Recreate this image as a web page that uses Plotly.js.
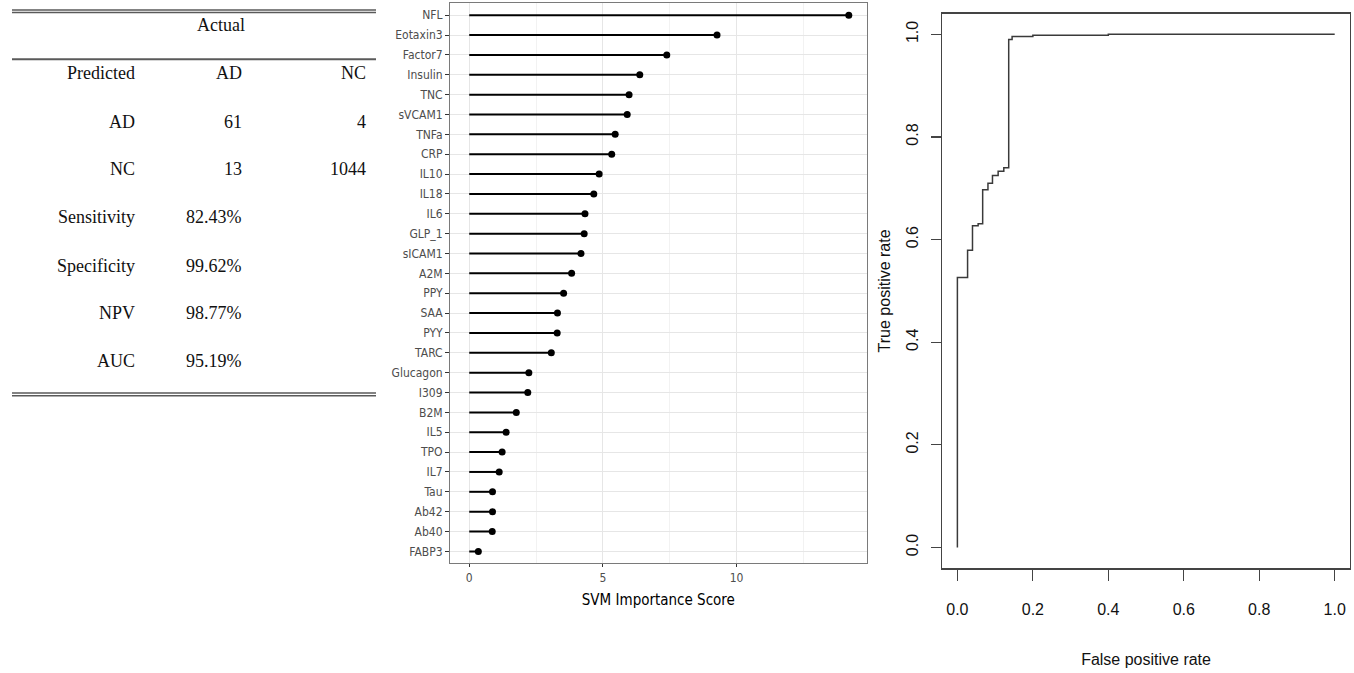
<!DOCTYPE html>
<html>
<head>
<meta charset="utf-8">
<script src="https://cdn.plot.ly/plotly-3.0.1.min.js"></script>
<style>html,body{margin:0;padding:0;background:#fff;}#chart{width:1354px;height:673px;}</style>
</head>
<body>
<div id="chart"></div>
<script>
// ---------- Table (confusion matrix) ----------
var tableRowLabels = ["Predicted", "AD", "NC", "Sensitivity", "Specificity", "NPV", "AUC"];
var tableColAD = ["AD", "61", "13", "82.43%", "99.62%", "98.77%", "95.19%"];
var tableColNC = ["NC", "4", "1044", "", "", "", ""];
var tableHeader = "Actual";

// ---------- Lollipop (SVM importance) ----------
var features = ["NFL","Eotaxin3","Factor7","Insulin","TNC","sVCAM1","TNFa","CRP","IL10","IL18","IL6","GLP_1","sICAM1","A2M","PPY","SAA","PYY","TARC","Glucagon","I309","B2M","IL5","TPO","IL7","Tau","Ab42","Ab40","FABP3"];
var importance = [14.2,9.27,7.39,6.38,5.98,5.91,5.46,5.33,4.86,4.66,4.33,4.30,4.18,3.83,3.53,3.30,3.29,3.07,2.23,2.19,1.76,1.38,1.23,1.12,0.87,0.87,0.86,0.34];

// ---------- ROC curve ----------
var fpr = [0, 0, 0.027, 0.040, 0.055, 0.067, 0.081, 0.093, 0.108, 0.123, 0.136, 0.145, 0.20, 0.40, 1.0];
var tpr = [0, 0.526, 0.579, 0.627, 0.631, 0.697, 0.710, 0.725, 0.733, 0.740, 0.990, 0.996, 0.998, 1.0, 1.0];

var W = 1354, H = 673;
function px(x){ return x / W; }
function py(y){ return 1 - y / H; }

// lollipop stems built from data
var stemX = [], stemY = [];
for (var i = 0; i < features.length; i++) {
  stemX.push(0, importance[i], null);
  stemY.push(features[i], features[i], null);
}

var sansC = "'DejaVu Sans Condensed', 'DejaVu Sans', sans-serif";
var serif = "'Liberation Serif', 'Times New Roman', serif";
var arial = "'Liberation Sans', Arial, sans-serif";

var traces = [
  {type: "scatter", mode: "lines", x: stemX, y: stemY, xaxis: "x", yaxis: "y",
   line: {color: "#000", width: 2}, hoverinfo: "skip", showlegend: false},
  {type: "scatter", mode: "markers", x: importance, y: features, xaxis: "x", yaxis: "y",
   marker: {color: "#000", size: 7}, showlegend: false},
  {type: "scatter", mode: "lines", x: fpr, y: tpr, xaxis: "x2", yaxis: "y2",
   line: {color: "#3a3a3a", width: 1.5, shape: "hv"}, showlegend: false}
];

// table annotations
var annotations = [];
var rowY = [73.3, 121.7, 169.3, 216.7, 265.7, 313.3, 360.7];
annotations.push({xref: "paper", yref: "paper", x: px(221), y: py(25), xanchor: "center", yanchor: "middle",
  text: tableHeader, showarrow: false, font: {family: serif, size: 18, color: "#111"}});
for (var r = 0; r < tableRowLabels.length; r++) {
  var cols = [[tableRowLabels[r], 137], [tableColAD[r], 244], [tableColNC[r], 367.5]];
  for (var c = 0; c < cols.length; c++) {
    if (cols[c][0] === "") continue;
    annotations.push({xref: "paper", yref: "paper", x: px(cols[c][1]), y: py(rowY[r]),
      xanchor: "right", yanchor: "middle", text: cols[c][0], showarrow: false,
      font: {family: serif, size: 18, color: "#111"}});
  }
}

var lineCol = "#5a5a5a";
function hline(y, w){ return {type: "line", xref: "paper", yref: "paper", x0: px(12), x1: px(376), y0: py(y), y1: py(y), line: {color: lineCol, width: w}}; }
var shapes = [hline(10, 1.5), hline(12.6, 1.5), hline(59.3, 2), hline(393, 1.5), hline(395.8, 1.5)];

var layout = {
  width: W, height: H,
  margin: {l: 0, r: 0, t: 0, b: 0},
  paper_bgcolor: "#fff", plot_bgcolor: "#fff",
  showlegend: false,
  xaxis: {
    domain: [px(450), px(866.7)], range: [-0.72, 14.87], anchor: "y",
    tickvals: [0, 5, 10], ticktext: ["0", "5", "10"],
    showgrid: true, gridcolor: "#e6e6e6", gridwidth: 1,
    minor: {tickvals: [2.5, 7.5, 12.5], showgrid: true, gridcolor: "#f2f2f2", gridwidth: 1},
    zeroline: false, showline: true, mirror: true, linecolor: "#7a7a7a", linewidth: 1,
    ticks: "outside", ticklen: 3, tickcolor: "#333",
    tickfont: {family: sansC, size: 12, color: "#4d4d4d"},
    title: {text: "SVM Importance Score", font: {family: sansC, size: 15, color: "#000"}, standoff: 10}
  },
  yaxis: {
    domain: [py(563.3), py(3.3)], range: [27.6, -0.6], anchor: "x",
    type: "category", categoryorder: "array", categoryarray: features,
    showgrid: true, gridcolor: "#e6e6e6", gridwidth: 1,
    zeroline: false, showline: true, mirror: true, linecolor: "#7a7a7a", linewidth: 1,
    ticks: "outside", ticklen: 4, tickcolor: "#333",
    tickfont: {family: sansC, size: 12, color: "#4d4d4d"}
  },
  xaxis2: {
    domain: [px(942.3), px(1349.8)], range: [-0.04, 1.04], anchor: "y2",
    tickvals: [0, 0.2, 0.4, 0.6, 0.8, 1.0], ticktext: ["0.0", "0.2", "0.4", "0.6", "0.8", "1.0"],
    showgrid: false, zeroline: false, showline: true, mirror: true, linecolor: "#444", linewidth: 1.5,
    ticks: "outside", ticklen: 11, tickcolor: "#444", tickwidth: 1.2, ticklabelstandoff: 15,
    tickfont: {family: arial, size: 16, color: "#111"},
    title: {text: "False positive rate", font: {family: arial, size: 16, color: "#111"}, standoff: 37}
  },
  yaxis2: {
    domain: [py(568), py(13.8)], range: [-0.04, 1.04], anchor: "x2",
    tickvals: [0, 0.2, 0.4, 0.6, 0.8, 1.0], ticktext: ["0.0", "0.2", "0.4", "0.6", "0.8", "1.0"],
    tickangle: -90,
    showgrid: false, zeroline: false, showline: true, mirror: true, linecolor: "#444", linewidth: 1.5,
    ticks: "outside", ticklen: 10, tickcolor: "#444", tickwidth: 1.2, ticklabelstandoff: 6,
    tickfont: {family: arial, size: 16, color: "#111"},
    title: {text: "True positive rate", font: {family: arial, size: 16, color: "#111"}, standoff: 10}
  },
  annotations: annotations,
  shapes: shapes
};

Plotly.newPlot("chart", traces, layout, {displayModeBar: false, staticPlot: true});
</script>
</body>
</html>
